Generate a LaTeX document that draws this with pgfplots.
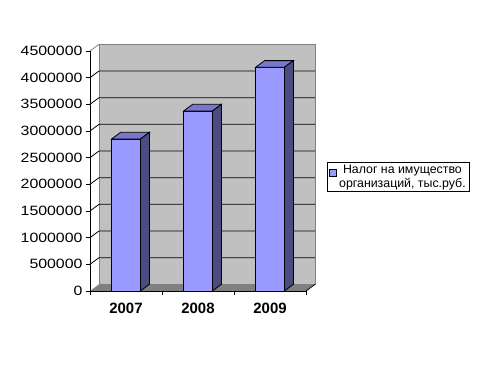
\documentclass[border=0pt]{standalone}
\usepackage{pgfplots}
\pgfplotsset{compat=1.18}
\usepackage{fontspec}
\setmainfont{Liberation Sans}
\newfontfamily\tickfont[FakeStretch=1.18]{Liberation Sans}
\definecolor{barfront}{HTML}{9999FF}
\definecolor{bartop}{HTML}{7777CC}
\definecolor{barside}{HTML}{4C4C80}
\definecolor{wall}{HTML}{C0C0C0}
\definecolor{floorc}{HTML}{808080}
\begin{document}
\begin{tikzpicture}[x=1bp,y=1bp]
\useasboundingbox (0,0) rectangle (489,365);
\begin{axis}[
  at={(90bp,74bp)}, anchor=south west,
  scale only axis, width=216bp, height=240bp,
  xmin=0.5, xmax=3.5, ymin=0, ymax=4500000,
  clip=false, axis on top,
  axis x line*=bottom, axis y line*=left,
  axis line style={black, line width=0.8bp, -},
  xtick={0.5,1.5,2.5,3.5}, xticklabels={2007,2008,2009},
  x tick label as interval,
  ytick={0,500000,1000000,1500000,2000000,2500000,3000000,3500000,4000000,4500000},
  scaled y ticks=false,
  /pgf/number format/fixed,
  /pgf/number format/1000 sep={},
  /pgf/number format/assume math mode=true,
  yticklabel style={font=\tickfont\fontsize{13.5}{14}\selectfont},
  xticklabel style={font=\bfseries\fontsize{15}{16}\selectfont, yshift=-5bp},
  tick align=outside, major tick length=4bp,
  tick style={black, line width=0.8bp},
  legend style={at={(1.097,0.5375)}, anchor=north west, draw=black, line width=0.8bp,
    inner xsep=2bp, inner ysep=1bp,
    font=\fontsize{12.4}{13.5}\selectfont, cells={align=center}},
]
% walls and floor
\draw[draw=floorc, fill=wall, line width=0.8bp] (axis cs:0.625,125000) rectangle (axis cs:3.625,4625000);
\fill[floorc] (axis cs:0.5,0) -- (axis cs:0.625,125000) -- (axis cs:3.625,125000) -- (axis cs:3.5,0) -- cycle;
\draw[floorc, line width=0.8bp] (axis cs:0.5,4500000) -- (axis cs:0.625,4625000);
\draw[black, line width=0.8bp] (axis cs:3.5,0) -- (axis cs:3.625,125000);
% gridlines
\draw[black, line width=0.8bp] (axis cs:0.5,500000) -- (axis cs:0.625,625000) -- (axis cs:3.625,625000);
\draw[black, line width=0.8bp] (axis cs:0.5,1000000) -- (axis cs:0.625,1125000) -- (axis cs:3.625,1125000);
\draw[black, line width=0.8bp] (axis cs:0.5,1500000) -- (axis cs:0.625,1625000) -- (axis cs:3.625,1625000);
\draw[black, line width=0.8bp] (axis cs:0.5,2000000) -- (axis cs:0.625,2125000) -- (axis cs:3.625,2125000);
\draw[black, line width=0.8bp] (axis cs:0.5,2500000) -- (axis cs:0.625,2625000) -- (axis cs:3.625,2625000);
\draw[black, line width=0.8bp] (axis cs:0.5,3000000) -- (axis cs:0.625,3125000) -- (axis cs:3.625,3125000);
\draw[black, line width=0.8bp] (axis cs:0.5,3500000) -- (axis cs:0.625,3625000) -- (axis cs:3.625,3625000);
\draw[black, line width=0.8bp] (axis cs:0.5,4000000) -- (axis cs:0.625,4125000) -- (axis cs:3.625,4125000);
% bars
\addplot[ybar, bar width=0.4, fill=barfront, draw=black, line width=0.8bp,
  legend image code/.code={\draw[fill=barfront,draw=black,line width=0.8bp] (0bp,1bp) rectangle (7bp,8bp);}]
  coordinates {(1,2850000) (2,3375000) (3,4195000)};
\addlegendentry{Налог на имущество\\организаций, тыс.руб.}
% top faces
\addplot[forget plot, fill=bartop, draw=black, line width=0.8bp] coordinates {(0.8,2850000) (0.925,2975000) (1.325,2975000) (1.2,2850000)} -- cycle;
\addplot[forget plot, fill=bartop, draw=black, line width=0.8bp] coordinates {(1.8,3375000) (1.925,3500000) (2.325,3500000) (2.2,3375000)} -- cycle;
\addplot[forget plot, fill=bartop, draw=black, line width=0.8bp] coordinates {(2.8,4195000) (2.925,4320000) (3.325,4320000) (3.2,4195000)} -- cycle;
% side faces
\addplot[forget plot, fill=barside, draw=black, line width=0.8bp] coordinates {(1.2,0) (1.325,125000) (1.325,2975000) (1.2,2850000)} -- cycle;
\addplot[forget plot, fill=barside, draw=black, line width=0.8bp] coordinates {(2.2,0) (2.325,125000) (2.325,3500000) (2.2,3375000)} -- cycle;
\addplot[forget plot, fill=barside, draw=black, line width=0.8bp] coordinates {(3.2,0) (3.325,125000) (3.325,4320000) (3.2,4195000)} -- cycle;
\end{axis}
\end{tikzpicture}
\end{document}
